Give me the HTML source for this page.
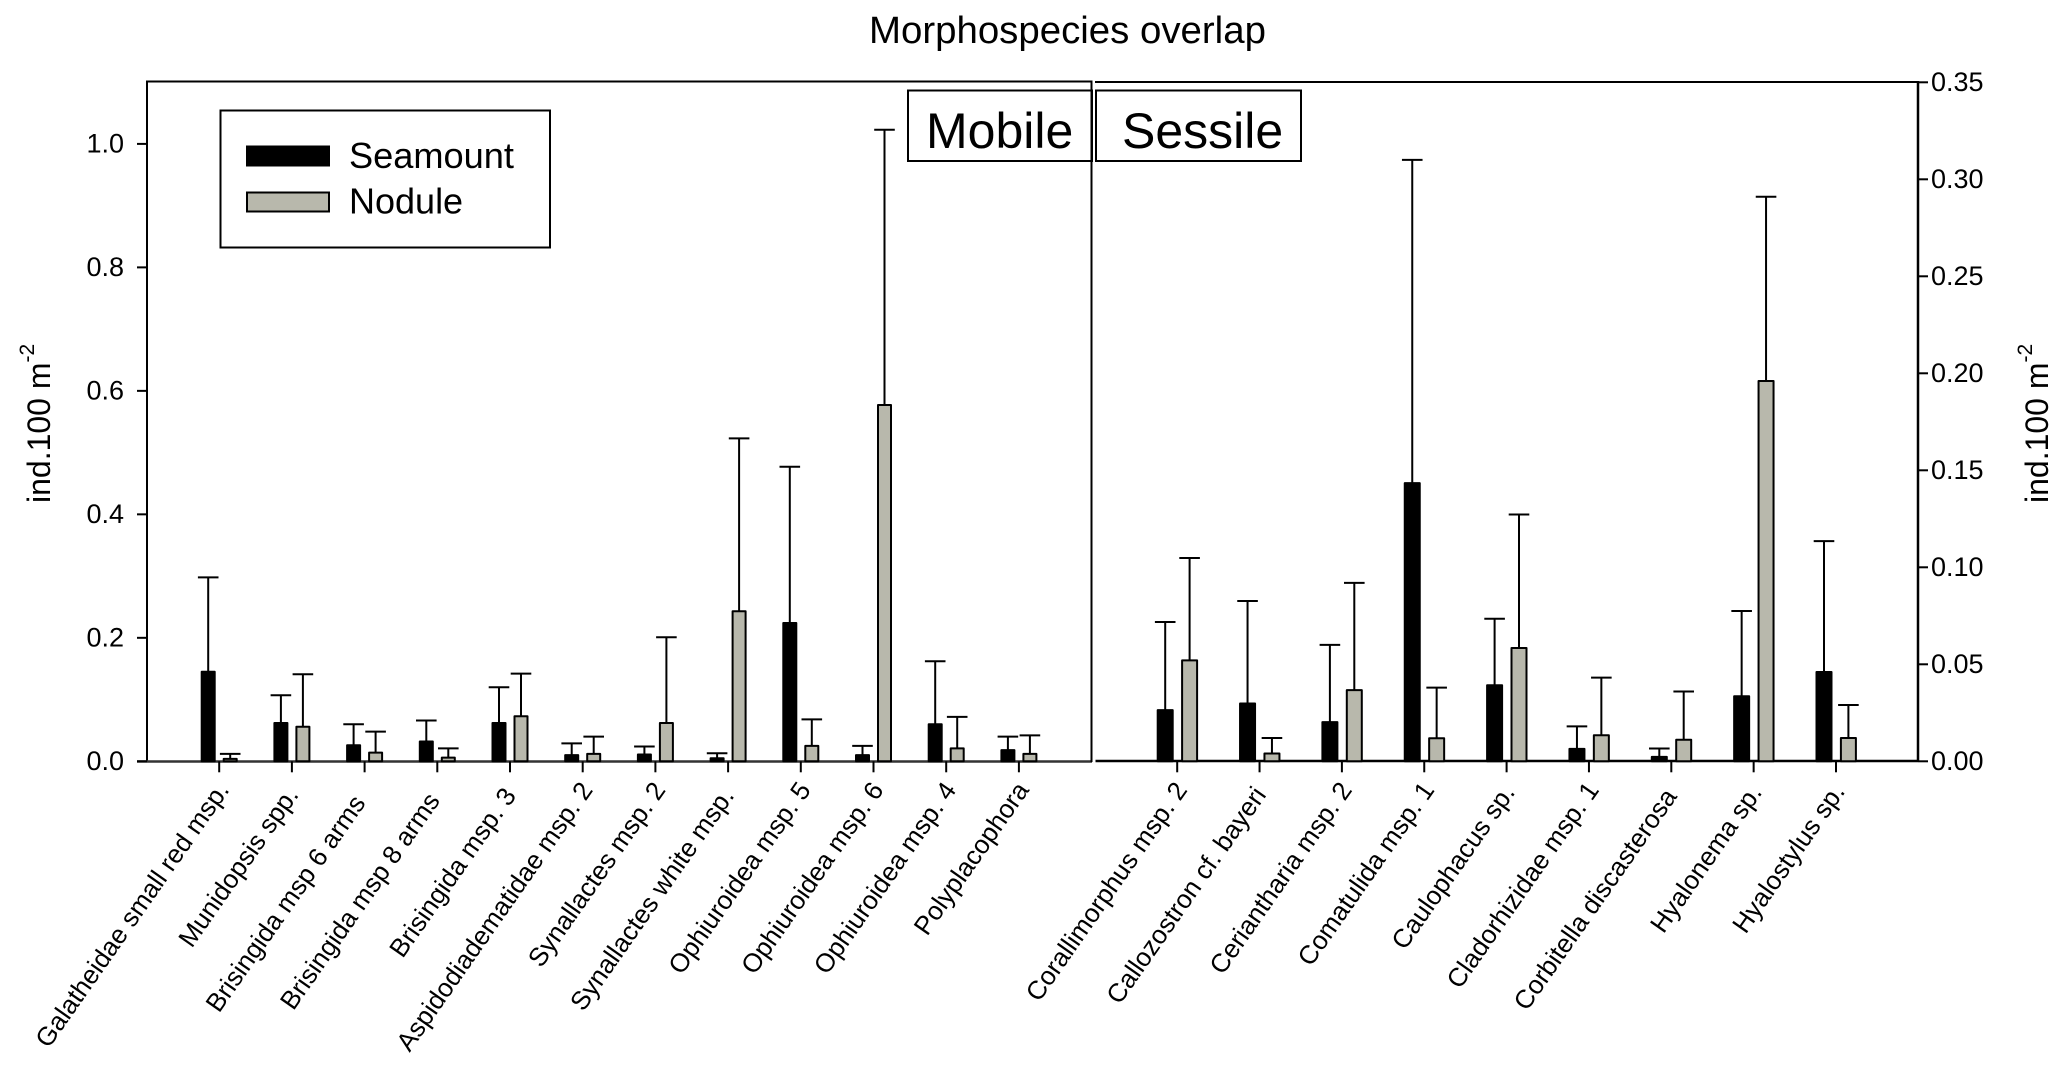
<!DOCTYPE html>
<html lang="en">
<head>
<meta charset="utf-8">
<title>Morphospecies overlap</title>
<style>
html,body{margin:0;padding:0;background:#fff;}
svg{display:block;font-family:"Liberation Sans",Arial,sans-serif;}
text{fill:#000;}
</style>
</head>
<body>
<svg id="chart" xmlns="http://www.w3.org/2000/svg" width="2067" height="1073" viewBox="0 0 2067 1073">
  <rect x="0" y="0" width="2067" height="1073" fill="#fff"/>
  <text x="869" y="43" font-size="38.4">Morphospecies overlap</text>
  <path d="M147 762V81.5H1091.5V762" fill="none" stroke="#000" stroke-width="2"/>
  <path d="M1095 82H1918" fill="none" stroke="#000" stroke-width="2"/>
  <line x1="1918" y1="81" x2="1918" y2="762" stroke="#000" stroke-width="2.5"/>
  <line x1="137" y1="761.5" x2="1092" y2="761.5" stroke="#333" stroke-width="2.4"/>
  <line x1="1095.5" y1="761" x2="1918" y2="761" stroke="#000" stroke-width="2.4"/>
  <g id="marks"></g>
  <text transform="translate(50,503) rotate(-90)" font-size="32">ind.100 m<tspan font-size="21" dy="-16">-2</tspan></text>
  <text transform="translate(2048,503) rotate(-90)" font-size="32">ind.100 m<tspan font-size="21" dy="-16">-2</tspan></text>
  <g>
    <rect x="220.5" y="110.5" width="329.5" height="137" fill="#fff" stroke="#000" stroke-width="2"/>
    <rect x="247" y="146.5" width="82" height="19" fill="#000" stroke="#000" stroke-width="2"/>
    <text x="349" y="168" font-size="36.2">Seamount</text>
    <rect x="247" y="192.5" width="82" height="19" fill="#b8b8ac" stroke="#000" stroke-width="2"/>
    <text x="349" y="213.5" font-size="36">Nodule</text>
  </g>
  <rect x="908" y="90.5" width="184" height="70.5" fill="#fff" stroke="#000" stroke-width="2"/>
  <text x="926" y="148" font-size="50">Mobile</text>
  <rect x="1096" y="90.5" width="205" height="70.5" fill="#fff" stroke="#000" stroke-width="2"/>
  <text x="1122" y="148" font-size="50">Sessile</text>
  <line x1="1091.5" y1="81" x2="1091.5" y2="762" stroke="#000" stroke-width="2"/>
</svg>
<script>
const mobileCategories = ["Galatheidae small red msp.","Munidopsis spp.","Brisingida msp 6 arms","Brisingida msp 8 arms","Brisingida msp. 3","Aspidodiadematidae msp. 2","Synallactes msp. 2","Synallactes white msp.","Ophiuroidea msp. 5","Ophiuroidea msp. 6","Ophiuroidea msp. 4","Polyplacophora"];
const mobileSeamount = [0.145,0.062,0.026,0.032,0.062,0.010,0.011,0.005,0.224,0.010,0.060,0.018];
const mobileSeamountUpper = [0.298,0.107,0.060,0.066,0.120,0.029,0.024,0.013,0.477,0.025,0.162,0.040];
const mobileNodule = [0.004,0.056,0.014,0.006,0.073,0.012,0.062,0.243,0.025,0.577,0.021,0.012];
const mobileNoduleUpper = [0.012,0.141,0.048,0.021,0.142,0.040,0.201,0.523,0.068,1.023,0.072,0.042];
const sessileCategories = ["Corallimorphus msp. 2","Callozostron cf. bayeri","Ceriantharia msp. 2","Comatulida msp. 1","Caulophacus sp.","Cladorhizidae msp. 1","Corbitella discasterosa","Hyalonema sp.","Hyalostylus sp."];
const sessileSeamount = [0.0264,0.0298,0.0202,0.1434,0.0392,0.0064,0.0023,0.0335,0.046];
const sessileSeamountUpper = [0.0718,0.0826,0.0600,0.3100,0.0735,0.0180,0.0066,0.0775,0.1135];
const sessileNodule = [0.052,0.004,0.0367,0.0119,0.0584,0.0134,0.0111,0.1960,0.012];
const sessileNoduleUpper = [0.1048,0.012,0.0920,0.0380,0.1272,0.0431,0.0360,0.2910,0.029];
const leftTicks = ["0.0","0.2","0.4","0.6","0.8","1.0"];
const rightTicks = ["0.00","0.05","0.10","0.15","0.20","0.25","0.30","0.35"];

const BASE_Y = 761.3;
const yLeft = v => BASE_Y - v * 617.4;
const yRight = v => BASE_Y - v * 1940;
const xLeft = i => 219.2 + i * 72.7;
const xRight = i => 1177.2 + i * 82.35;

/* layout tweak: how far some tick labels sit further along their rotated direction */
const labelSlide = {"Munidopsis spp.":6,"Brisingida msp 6 arms":16,"Brisingida msp 8 arms":13,"Brisingida msp. 3":7,"Synallactes white msp.":7,"Callozostron cf. bayeri":6,"Caulophacus sp.":3,"Corbitella discasterosa":8,"Hyalonema sp.":3,"Hyalostylus sp.":2};

const SVGNS = "http://www.w3.org/2000/svg";
const marks = document.getElementById("marks");
function make(tag, attrs) {
  const el = document.createElementNS(SVGNS, tag);
  for (const k in attrs) el.setAttribute(k, attrs[k]);
  marks.appendChild(el);
  return el;
}
function drawErrorBar(cx, yBar, yTop, slug) {
  const stem = make("line", {x1: cx, x2: cx, y1: yBar, y2: yTop, stroke: "#000", "stroke-width": 2});
  
  
  const cap = make("line", {x1: cx - 10.3, x2: cx + 10.3, y1: yTop, y2: yTop, stroke: "#000", "stroke-width": 2});
  
  
}
function drawBar(cx, width, yBar, fill, slug) {
  const bar = make("rect", {x: cx - width / 2, y: yBar, width: width, height: Math.max(BASE_Y - yBar, 0), fill: fill, stroke: "#000", "stroke-width": 2, "stroke-linejoin": "round"});
  
  
}
function drawPanel(cats, seam, seamUp, nod, nodUp, x, y, offS, offN, w, prefix) {
  cats.forEach((name, i) => {
    const cx = x(i);
    drawErrorBar(cx - offS, y(seam[i]), y(seamUp[i]), prefix + '-seamount-' + i);
    drawErrorBar(cx + offN, y(nod[i]), y(nodUp[i]), prefix + '-nodule-' + i);
    drawBar(cx - offS, w, y(seam[i]), "#000", prefix + '-seamount-' + i);
    drawBar(cx + offN, w, y(nod[i]), "#b8b8ac", prefix + '-nodule-' + i);
    const tick = make("line", {x1: cx, x2: cx, y1: BASE_Y, y2: BASE_Y + 11, stroke: "#000", "stroke-width": 2});
    
    
    const slide = labelSlide[name] || 0;
    const lx = cx + 11 - slide * 0.57;
    const ly = 790 + slide * 0.82;
    const label = make("text", {transform: "translate(" + lx + "," + ly + ") rotate(-55)", "text-anchor": "end", "font-size": 26});
    label.textContent = name;
    
    
  });
}
drawPanel(mobileCategories, mobileSeamount, mobileSeamountUpper, mobileNodule, mobileNoduleUpper, xLeft, yLeft, 11, 11, 13, 'mobile');
drawPanel(sessileCategories, sessileSeamount, sessileSeamountUpper, sessileNodule, sessileNoduleUpper, xRight, yRight, 12, 12.4, 15, 'sessile');

leftTicks.forEach(t => {
  const yy = yLeft(parseFloat(t));
  const tick = make("line", {x1: 137, x2: 147, y1: yy, y2: yy, stroke: "#000", "stroke-width": 2});
  
  
  const label = make("text", {x: 124, y: yy + 8.5, "text-anchor": "end", "font-size": 27});
  label.textContent = t;
  
  
});
rightTicks.forEach(t => {
  const yy = yRight(parseFloat(t));
  const tick = make("line", {x1: 1918, x2: 1928, y1: yy, y2: yy, stroke: "#000", "stroke-width": 2});
  
  
  const label = make("text", {x: 1931, y: yy + 8.5, "font-size": 27});
  label.textContent = t;
  
  
});
</script>
</body>
</html>
